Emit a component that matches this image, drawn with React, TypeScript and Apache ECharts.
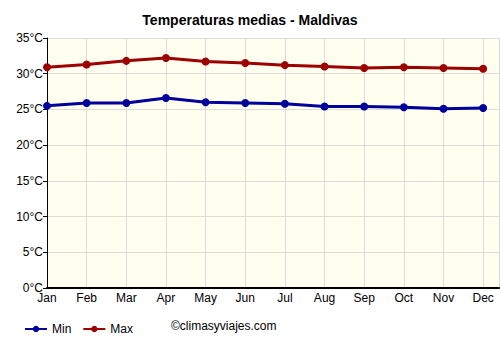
import React, { useEffect, useRef } from "react";
import * as echarts from "echarts";

const months = ["Jan", "Feb", "Mar", "Apr", "May", "Jun", "Jul", "Aug", "Sep", "Oct", "Nov", "Dec"];
const minTemps = [25.5, 25.9, 25.9, 26.6, 26.0, 25.9, 25.8, 25.4, 25.4, 25.3, 25.1, 25.2];
const maxTemps = [30.9, 31.3, 31.8, 32.2, 31.7, 31.5, 31.2, 31.0, 30.8, 30.9, 30.8, 30.7];

export default function App() {
  const ref = useRef<HTMLDivElement>(null);
  useEffect(() => {
    if (!ref.current) return;
    const chart = echarts.init(ref.current, undefined, { renderer: "svg" });
    const font = "Liberation Sans, Arial, sans-serif";
    chart.setOption({
      animation: false,
      backgroundColor: "#ffffff",
      title: {
        text: "Temperaturas medias - Maldivas",
        left: "center",
        top: 8,
        textStyle: { fontFamily: font, fontSize: 14, fontWeight: "bold", color: "#000" },
      },
      grid: {
        left: 47,
        right: 1,
        top: 38,
        bottom: 62,
        show: true,
        backgroundColor: "#fffff0",
        borderWidth: 0,
      },
      legend: {
        left: 19,
        top: 318,
        itemWidth: 22,
        itemHeight: 8,
        itemGap: 11,
        textStyle: { fontFamily: font, fontSize: 12, color: "#000" },
        data: ["Min", "Max"],
      },
      graphic: [
        {
          type: "text",
          left: 171,
          top: 320,
          style: { text: "©climasyviajes.com", font: `12px ${font}`, fill: "#000" },
        },
      ],
      xAxis: {
        type: "value",
        min: 0,
        max: 11.4,
        interval: 1,
        axisLine: { show: true, onZero: false, lineStyle: { color: "#000", width: 2 } },
        axisTick: { show: false },
        axisLabel: {
          showMaxLabel: false,
          fontFamily: font,
          fontSize: 12,
          color: "#000",
          margin: 4,
          formatter: (v: number) => (Number.isInteger(v) ? months[v] ?? "" : ""),
        },
        splitLine: { show: true, lineStyle: { color: "#dcdcdc", width: 1 } },
      },
      yAxis: {
        type: "value",
        min: 0,
        max: 35,
        interval: 5,
        axisLine: { show: true, lineStyle: { color: "#000", width: 1 } },
        axisTick: { show: true, length: 4, lineStyle: { color: "#000" } },
        axisLabel: {
          fontFamily: font,
          fontSize: 12,
          color: "#000",
          margin: 4,
          formatter: (v: number) => `${v}°C`,
        },
        splitLine: { show: true, lineStyle: { color: "#dcdcdc", width: 1 } },
      },
      series: [
        {
          name: "Min",
          type: "line",
          data: minTemps.map((v, i) => [i, v]),
          color: "#00009c",
          lineStyle: { width: 3, color: "#00009c" },
          symbol: "circle",
          symbolSize: 8,
          itemStyle: { color: "#00009c" },
        },
        {
          name: "Max",
          type: "line",
          data: maxTemps.map((v, i) => [i, v]),
          color: "#9c0000",
          lineStyle: { width: 3, color: "#9c0000" },
          symbol: "circle",
          symbolSize: 8,
          itemStyle: { color: "#9c0000" },
        },
      ],
    });
    return () => chart.dispose();
  }, []);
  return <div ref={ref} style={{ width: 500, height: 350, position: "absolute", left: 0, top: 0 }} />;
}
